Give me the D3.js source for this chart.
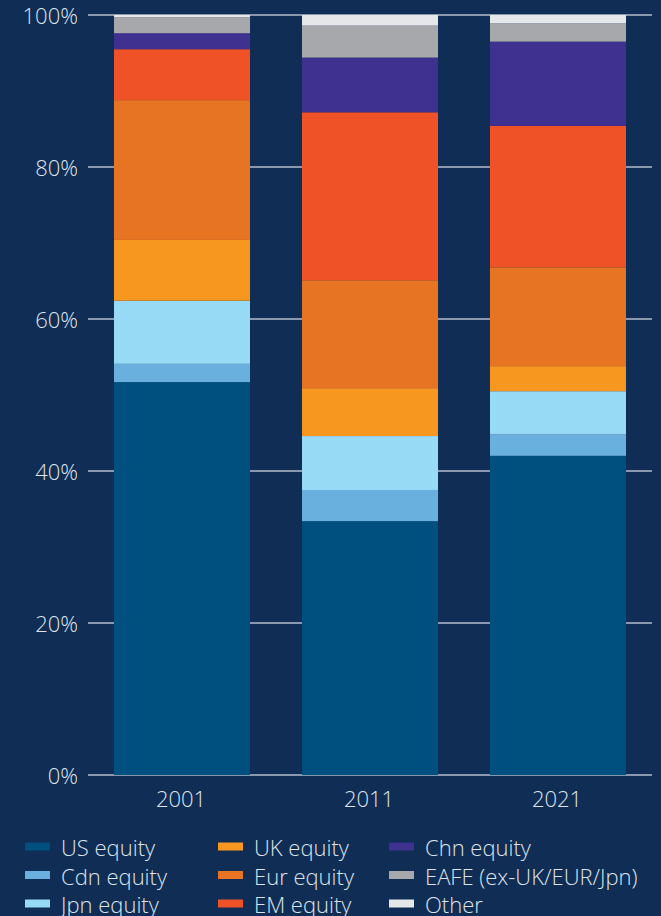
<!DOCTYPE html>
<html>
<head>
<meta charset="utf-8">
<script src="https://cdn.jsdelivr.net/npm/d3@7/dist/d3.min.js"></script>
<style>
  html, body { margin: 0; padding: 0; background: #0f2d55; }
  svg { display: block; }
  text { font-family: "Open Sans", "Noto Sans", sans-serif; font-weight: 300; fill: #dfe4ea; }
</style>
</head>
<body>
<svg id="chart" width="661" height="916"></svg>
<script>
// Years on the x axis
const years = ["2001", "2011", "2021"];

// Asset classes, stacked bottom to top
const seriesNames = ["US equity", "Cdn equity", "Jpn equity", "UK equity", "Eur equity",
                     "EM equity", "Chn equity", "EAFE (ex-UK/EUR/Jpn)", "Other"];

// Share of portfolio (%) per year, one array per asset class
const usEquity   = [51.7, 33.4, 42.0];
const cdnEquity  = [2.4, 4.1, 2.8];
const jpnEquity  = [8.3, 7.1, 5.7];
const ukEquity   = [8.0, 6.3, 3.3];
const eurEquity  = [18.4, 14.2, 13.0];
const emEquity   = [6.7, 22.1, 18.6];
const chnEquity  = [2.1, 7.2, 11.1];
const eafeEquity = [2.1, 4.2, 2.4];
const other      = [0.3, 1.4, 1.1];

const yTicks = [0, 20, 40, 60, 80, 100];

const colors = ["#00507f", "#69b0df", "#97daf6", "#f8971f", "#e67422",
                "#f05228", "#3f3190", "#a7a8ab", "#e6e7e9"];

const seriesValues = [usEquity, cdnEquity, jpnEquity, ukEquity, eurEquity,
                      emEquity, chnEquity, eafeEquity, other];

const rows = years.map((yr, i) => {
  const r = { year: yr };
  seriesNames.forEach((s, k) => { r[s] = seriesValues[k][i]; });
  return r;
});

const svg = d3.select("#chart");

const x = d3.scaleBand().domain(years).range([88, 652])
  .paddingInner(0.2766).paddingOuter(0.1383);
const y = d3.scaleLinear().domain([0, 100]).range([775, 15]);

// Horizontal gridlines with percentage labels
const grid = svg.append("g");
grid.selectAll("line").data(yTicks).join("line")
  .attr("x1", 88).attr("x2", 652)
  .attr("y1", d => y(d)).attr("y2", d => y(d))
  .attr("stroke", "#b3bccb").attr("stroke-width", 1.5);
grid.selectAll("text").data(yTicks).join("text")
  .attr("x", 78).attr("y", d => y(d) + 9)
  .attr("text-anchor", "end")
  .attr("font-size", 22)
  .text(d => d + "%");

// Stacked bars
const stack = d3.stack().keys(seriesNames);
const layers = stack(rows);

svg.append("g").selectAll("g").data(layers).join("g")
  .attr("fill", (d, i) => colors[i])
  .selectAll("rect").data(d => d).join("rect")
  .attr("x", d => x(d.data.year))
  .attr("width", x.bandwidth())
  .attr("y", d => y(d[1]))
  .attr("height", d => y(d[0]) - y(d[1]));

// Year labels
svg.append("g").selectAll("text").data(years).join("text")
  .attr("x", d => x(d) + x.bandwidth() / 2 - 1)
  .attr("y", 807)
  .attr("text-anchor", "middle")
  .attr("font-size", 22)
  .text(d => d);

// Legend: three columns, filled column by column
const legendCols = [25, 218, 389];
const legendRows = [846.5, 875, 903.5];
const legend = svg.append("g").selectAll("g").data(seriesNames).join("g")
  .attr("transform", (d, i) => `translate(${legendCols[Math.floor(i / 3)]},${legendRows[i % 3]})`);
legend.append("rect")
  .attr("x", 0).attr("y", -4).attr("width", 25).attr("height", 8)
  .attr("fill", (d, i) => colors[i]);
legend.append("text")
  .attr("x", 36).attr("y", 9.5)
  .attr("font-size", 22)
  .text(d => d);
</script>
</body>
</html>
